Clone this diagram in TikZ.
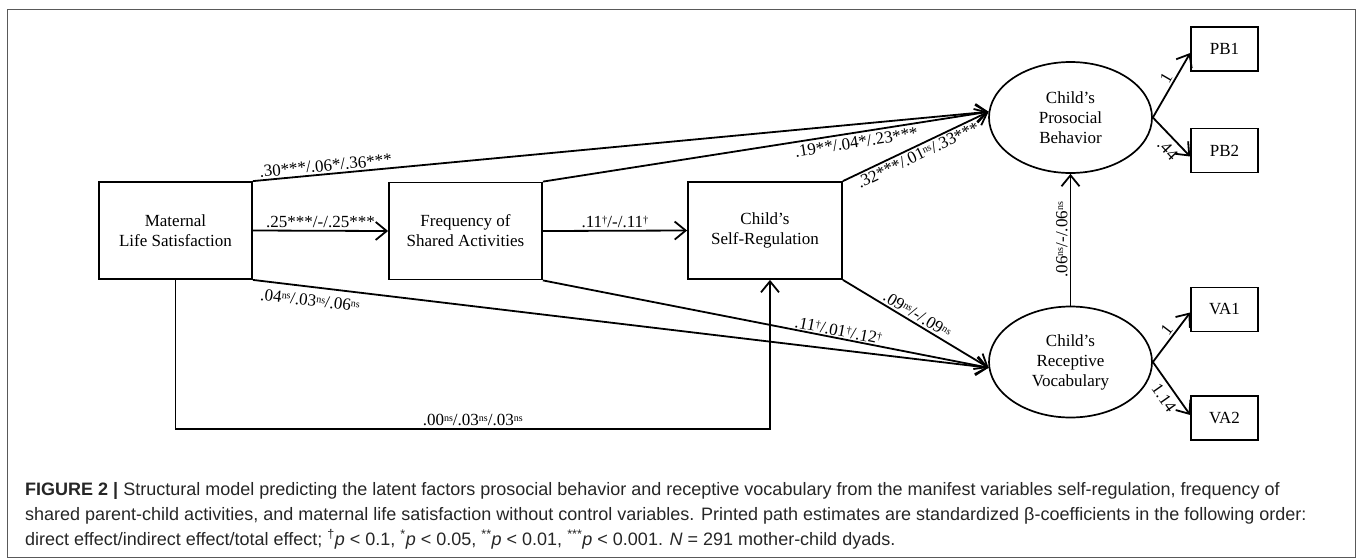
\documentclass[tikz,border=0pt]{standalone}
\usepackage{fontspec}
\setmainfont{Liberation Serif}
\newfontfamily\capfont{Liberation Sans}
\usetikzlibrary{arrows.meta,shapes.geometric}
\newcommand\sns{\raisebox{0.55ex}{\fontsize{10}{10}\selectfont ns}}
\newcommand\sdg{\raisebox{0.55ex}{\fontsize{10.5}{10.5}\selectfont\textdagger}}
\begin{document}
\begin{tikzpicture}[x=1pt,y=-1pt,
  every node/.style={font=\fontsize{17}{20}\selectfont},
  boxn/.style={draw,line width=1.8pt,minimum width=153pt,minimum height=97pt,align=center,inner sep=0pt},
  ind/.style={draw,line width=1.6pt,minimum width=67pt,minimum height=44pt,inner sep=0pt},
  lat/.style={draw,ellipse,line width=1.7pt,minimum width=163pt,minimum height=111pt,align=center,inner sep=0pt},
  conn/.style={line width=1.8pt},
  arr/.style={conn,-{Straight Barb[length=11pt,width=18pt]}},
  lab/.style={font=\fontsize{17}{20}\selectfont,inner sep=2pt},
  capline/.style={font=\capfont\fontsize{18}{25}\selectfont,text=black!85,anchor=base west,inner sep=0pt}
]
\useasboundingbox (0,0) rectangle (1357,558);
\draw[black!65,line width=1pt] (7,9) rectangle (1355,557);

\node[boxn] (ml) at (175.5,230.5) {Maternal\\Life Satisfaction};
\node[boxn] (fs) at (465.5,231) {Frequency of\\Shared Activities};
\node[boxn,minimum width=154pt] (sr) at (765,230.5) {Child’s\\Self-Regulation};
\node[lat] (pro) at (1070.5,117.5) {Child’s\\Prosocial\\Behavior};
\node[lat] (rec) at (1070.5,362) {Child’s\\Receptive\\Vocabulary};
\node[ind] (pb1) at (1224.5,49) {PB1};
\node[ind] (pb2) at (1224.5,150.5) {PB2};
\node[ind] (va1) at (1224.5,309.5) {VA1};
\node[ind] (va2) at (1224.5,418) {VA2};

\coordinate (b1) at (175.5,429);
\coordinate (b2) at (770,429);

\draw[arr] (ml.east) -- node[lab,above]{.25***/-/.25***} (fs.west);
\draw[arr] (fs.east) -- node[lab,above]{.11\sdg/-/.11\sdg} (sr.west);
\draw[arr] (ml.north east) -- node[lab,above,sloped,pos=0.1]{.30***/.06*/.36***} (pro.176);
\draw[arr] (fs.north east) -- node[lab,below=1pt,sloped,pos=0.70]{.19**/.04*/.23***} (pro.176);
\draw[arr] (sr.north east) -- node[lab,below,sloped,pos=0.49]{.32***/.01\sns/.33***} (pro.176);
\draw[arr] (ml.south east) -- node[lab,below=5pt,sloped,pos=0.08]{.04\sns/.03\sns/.06\sns} (rec.184);
\draw[arr] (fs.south east) -- node[lab,above,sloped,pos=0.66,inner sep=1pt]{.11\sdg/.01\sdg/.12\sdg} (rec.184);
\draw[arr] (sr.south east) -- node[lab,above,sloped,pos=0.48]{.09\sns/-/.09\sns} (rec.184);
\draw[arr] (ml.south) -- (b1) -- node[lab,above]{.00\sns/.03\sns/.03\sns} (b2) -- (b2 |- sr.south);
\draw[arr] (rec.north) -- node[lab,above,sloped]{.06\sns/-/.06\sns} (pro.south);

\draw[arr] (pro.east) -- node[lab,above,sloped,pos=0.55]{1} ([yshift=-4pt]pb1.west);
\draw[arr] (pro.east) -- node[lab,below=3pt,sloped,pos=0.62]{.44} ([yshift=-6pt]pb2.west);
\draw[arr] (rec.east) -- node[lab,above,sloped,pos=0.55]{1} ([yshift=-3pt]va1.west);
\draw[arr] (rec.east) -- node[lab,below=3pt,sloped,pos=0.55]{1.14} ([yshift=3pt]va2.west);

\node[capline] (c1) at (25,495) {\textbf{FIGURE 2 |} Structural model predicting the latent factors prosocial behavior and receptive vocabulary from the manifest variables self-regulation, frequency of};
\node[capline] (c2) at (25,520) {shared parent-child activities, and maternal life satisfaction without control variables. Printed path estimates are standardized β-coefficients in the following order:};
\node[capline] (c3) at (25,545) {direct effect/indirect effect/total effect; \textsuperscript{†}\textit{p} < 0.1, \textsuperscript{*}\textit{p} < 0.05, \textsuperscript{**}\textit{p} < 0.01, \textsuperscript{***}\textit{p} < 0.001. \textit{N} = 291 mother-child dyads.};
\end{tikzpicture}
\end{document}
